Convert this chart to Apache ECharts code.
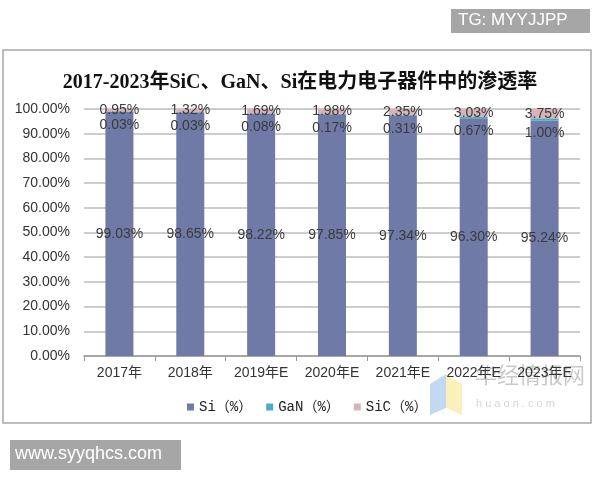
<!DOCTYPE html>
<html>
<head>
<meta charset="utf-8">
<script src="https://cdn.jsdelivr.net/npm/echarts@6/dist/echarts.min.js"></script>
<style>html,body{margin:0;padding:0;background:#fff}#c{width:600px;height:480px}</style>
</head>
<body>
<div id="c"></div>
<script>
var categories = ['2017年','2018年','2019年E','2020年E','2021年E','2022年E','2023年E'];
var siValues  = [99.03, 98.65, 98.22, 97.85, 97.34, 96.30, 95.24];
var ganValues = [0.03, 0.03, 0.08, 0.17, 0.31, 0.67, 1.00];
var sicValues = [0.95, 1.32, 1.69, 1.98, 2.35, 3.03, 3.75];
var seriesNames = ['Si（%）','GaN（%）','SiC（%）'];

var chart = echarts.init(document.getElementById('c'));
var labelFont = "'Liberation Sans', Arial, sans-serif";
function fmt(p){ return p.value.toFixed(2) + '%'; }
var lbl = {show:true, formatter:fmt, color:'#3a3a3a', fontSize:14, fontFamily:labelFont};

chart.setOption({
  animation:false,
  backgroundColor:'#fff',
  title:{
    text:'2017-2023年SiC、GaN、Si在电力电子器件中的渗透率',
    left:'center', top:68,
    textStyle:{fontSize:20, fontWeight:'bold', color:'#111', fontFamily:"'Liberation Serif', 'Noto Sans CJK SC', serif"}
  },
  legend:{
    data:seriesNames, top:395, left:182, itemWidth:7, itemHeight:7, itemGap:14,
    icon:'rect',
    textStyle:{fontSize:14, color:'#222', fontFamily:"'Liberation Mono', 'Noto Sans CJK SC', monospace"}
  },
  grid:{left:84, right:20, top:109, bottom:124},
  xAxis:{
    type:'category', data:categories,
    axisLine:{lineStyle:{color:'#9a9a9a', width:1.5}},
    axisTick:{show:true, length:5, lineStyle:{color:'#9a9a9a'}},
    axisLabel:{fontSize:14, color:'#333', margin:10, fontFamily:"'Liberation Sans', 'Noto Sans CJK SC', sans-serif"}
  },
  yAxis:{
    type:'value', min:0, max:100, interval:10,
    axisLine:{show:false}, axisTick:{show:false},
    axisLabel:{fontSize:14, color:'#333', margin:14, fontFamily:labelFont, formatter:function(v){return v.toFixed(2)+'%';}},
    splitLine:{lineStyle:{color:'#bdbdbd', width:1.5}}
  },
  series:[
    {name:seriesNames[0], type:'bar', stack:'a', barWidth:28, data:siValues,
     itemStyle:{color:'#6f7aa6'}, label:Object.assign({position:'inside'}, lbl)},
    {name:seriesNames[1], type:'bar', stack:'a', barWidth:28, data:ganValues,
     itemStyle:{color:'#4bacc6'}, label:Object.assign({position:'inside', offset:[0,14]}, lbl)},
    {name:seriesNames[2], type:'bar', stack:'a', barWidth:28, data:sicValues,
     itemStyle:{color:'#d8b4b8'}, label:Object.assign({position:'inside'}, lbl)}
  ],
  graphic:[
    {type:'rect', shape:{x:3, y:50, width:588, height:373}, style:{fill:'none', stroke:'#a8a8a8', lineWidth:1.5}, z:-1},
    {type:'rect', shape:{x:451, y:9, width:139, height:24}, style:{fill:'#a6a6a6'}},
    {type:'text', left:458, top:12, style:{text:'TG: MYYJJPP', fill:'#fff', fontSize:17, fontFamily:labelFont}},
    {type:'rect', shape:{x:10, y:440, width:171, height:30}, style:{fill:'#a6a6a6'}},
    {type:'text', left:15, top:445, style:{text:'www.syyqhcs.com', fill:'#fff', fontSize:18, fontFamily:labelFont}},
    {type:'polygon', shape:{points:[[430,384],[446,374],[446,408],[430,415]]}, style:{fill:'rgba(120,170,230,0.45)'}},
    {type:'polygon', shape:{points:[[446,374],[462,384],[462,415],[446,408]]}, style:{fill:'rgba(245,225,120,0.5)'}},
    {type:'text', left:475, top:364, style:{text:'华经情报网', fill:'rgba(120,120,120,0.4)', fontSize:22, fontFamily:"'Noto Sans CJK SC', sans-serif"}},
    {type:'text', left:476, top:398, style:{text:'h u a o n . c o m', fill:'rgba(150,150,150,0.4)', fontSize:11, fontFamily:labelFont}}
  ]
});
</script>
</body>
</html>
